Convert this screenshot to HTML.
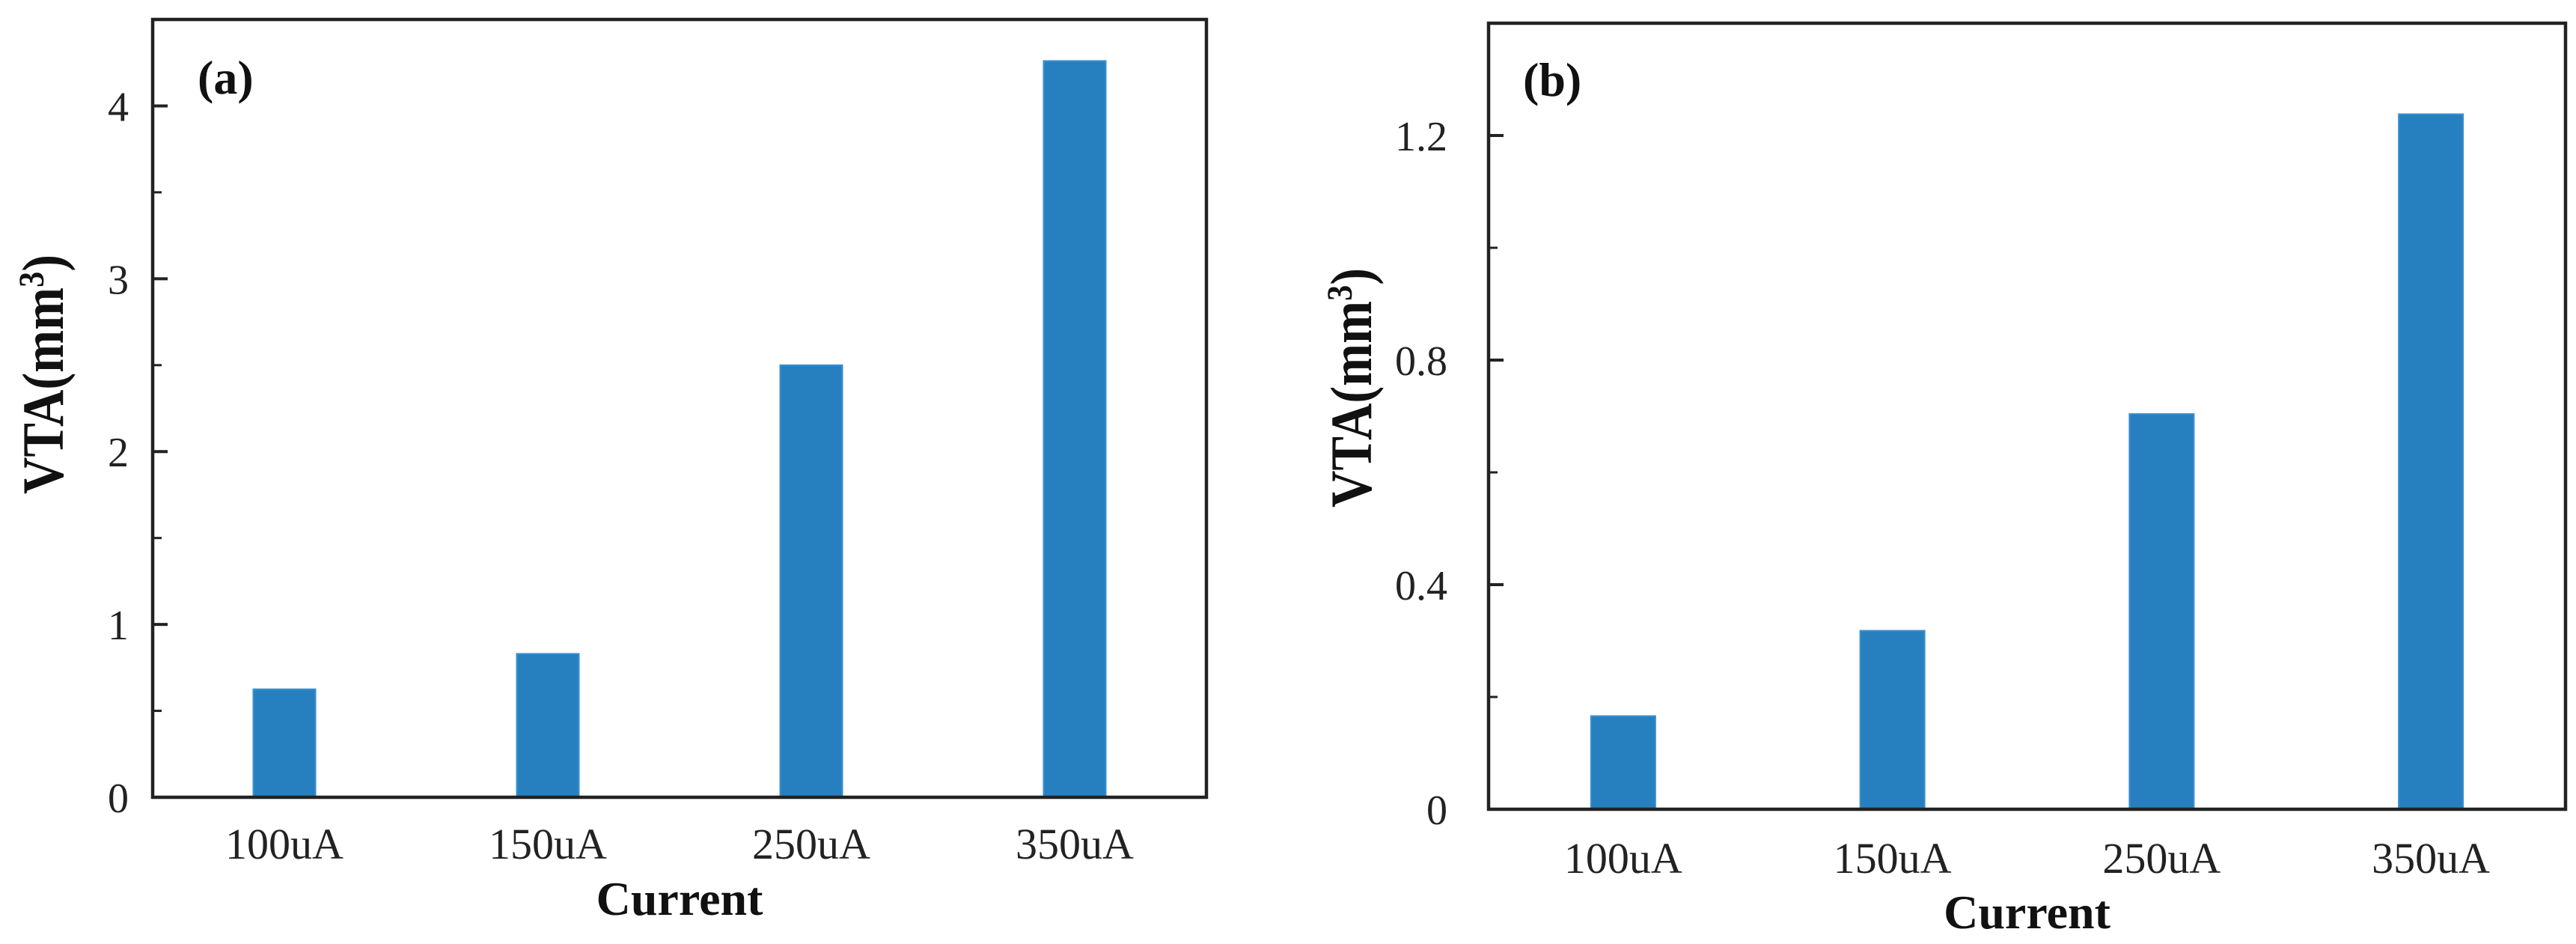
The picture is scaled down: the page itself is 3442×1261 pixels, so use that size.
<!DOCTYPE html>
<html><head><meta charset="utf-8"><style>
html,body{margin:0;padding:0;background:#fff;}
svg{display:block;font-family:"Liberation Serif",serif;}
</style></head><body>
<svg id="chart" width="3442" height="1261" viewBox="0 0 3442 1261" xmlns="http://www.w3.org/2000/svg"></svg>
<script>
const categories = ["100uA","150uA","250uA","350uA"];
const valuesA = [0.625, 0.83, 2.5, 4.26];
const valuesB = [0.166, 0.318, 0.704, 1.238];
const ticksA = [0,1,2,3,4];
const minorA = [0.5,1.5,2.5,3.5];
const ticksB = [0,0.4,0.8,1.2];
const minorB = [0.2,0.6,1.0];
const tickLabelsB = ["0","0.4","0.8","1.2"];

const NS = "http://www.w3.org/2000/svg";
const svg = document.getElementById('chart');
function mk(tag, attrs, parent){
  const e = document.createElementNS(NS, tag);
  for (const k in attrs) e.setAttribute(k, attrs[k]);
  (parent||svg).appendChild(e);
  return e;
}
function panel(cfg){
  const g = mk('g', {});
  
  
  const y = v => cfg.bottom - (v / cfg.ymax) * (cfg.bottom - cfg.top);
  const band = (cfg.right - cfg.left) / categories.length;
  const xc = i => cfg.left + band * (i + 0.5);
  cfg.values.forEach((v, i) => {
    const r = mk('rect', {x: xc(i) - cfg.barW/2, y: y(v), width: cfg.barW, height: cfg.bottom - y(v), fill: '#2680c0', stroke:'#3a8fd0', 'stroke-width':2}, g);
    
    
  });
  const f = mk('rect', {x: cfg.left, y: cfg.top, width: cfg.right - cfg.left, height: cfg.bottom - cfg.top, fill: 'none', stroke: '#222', 'stroke-width': 4.5}, g);
  
  
  cfg.ticks.forEach((t, i) => {
    mk('line', {x1: cfg.left, x2: cfg.left + 20, y1: y(t), y2: y(t), stroke: '#222', 'stroke-width': 4}, g);
    const tx = mk('text', {x: cfg.labelRight, y: y(t) + 20, 'text-anchor': 'end', 'font-size': 56, fill: '#222'}, g);
    tx.textContent = cfg.tickLabels[i];
    
    
  });
  cfg.minor.forEach(t => {
    mk('line', {x1: cfg.left, x2: cfg.left + 12, y1: y(t), y2: y(t), stroke: '#222', 'stroke-width': 3}, g);
  });
  categories.forEach((c, i) => {
    const tx = mk('text', {x: xc(i), y: cfg.xLabelY, 'text-anchor': 'middle', 'font-size': 58, fill: '#222'}, g);
    tx.textContent = c;
    
    
  });
  const xt = mk('text', {x: (cfg.left + cfg.right)/2, y: cfg.xTitleY, 'text-anchor': 'middle', 'font-size': 64, 'font-weight': 'bold', fill: '#111'}, g);
  xt.textContent = 'Current';
  
  
  const yt = mk('text', {x: 0, y: 0, 'text-anchor': 'middle', 'font-size': 78, 'font-weight': 'bold', fill: '#111', textLength: 320, lengthAdjust: 'spacingAndGlyphs', transform: `translate(${cfg.yTitleX},${cfg.yTitleY}) rotate(-90)`}, g);
  yt.innerHTML = 'VTA(mm<tspan dy="-26" font-size="48">3</tspan><tspan dy="26">)</tspan>';
  
  
  const pl = mk('text', {x: cfg.tagX, y: cfg.tagY, 'font-size': 64, 'font-weight': 'bold', fill: '#111'}, g);
  pl.textContent = cfg.tag;
  
  
}
panel({name:'panel-a', values: valuesA, ticks: ticksA, tickLabels: ticksA.map(String), minor: minorA, ymax: 4.5,
  left: 204, right: 1612, top: 26, bottom: 1065, barW: 83, labelRight: 172,
  xLabelY: 1147, xTitleY: 1222, yTitleX: 84, yTitleY: 500, tag: '(a)', tagX: 264, tagY: 125});
panel({name:'panel-b', values: valuesB, ticks: ticksB, tickLabels: tickLabelsB, minor: minorB, ymax: 1.4,
  left: 1989, right: 3428, top: 31, bottom: 1081, barW: 86, labelRight: 1934,
  xLabelY: 1166, xTitleY: 1240, yTitleX: 1832, yTitleY: 518, tag: '(b)', tagX: 2035, tagY: 128});
</script>
</body></html>
